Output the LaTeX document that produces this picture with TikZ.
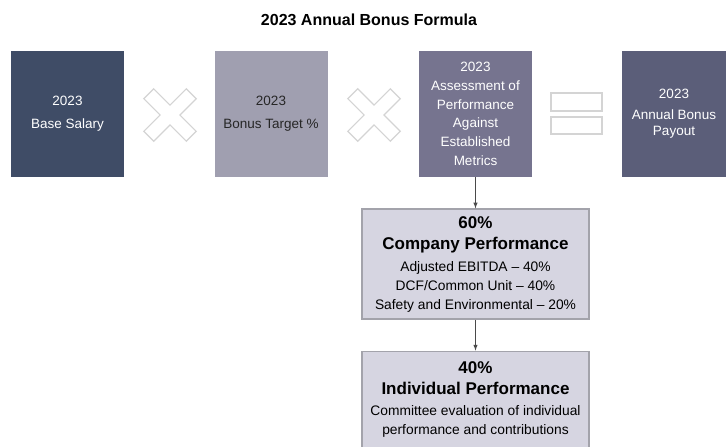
\documentclass[tikz,border=0pt]{standalone}
\usepackage{fontspec}
\setmainfont{Liberation Sans}
\usetikzlibrary{positioning}

\definecolor{navy}{HTML}{3F4C66}
\definecolor{lilac}{HTML}{A09FB0}
\definecolor{slate}{HTML}{76748F}
\definecolor{dusk}{HTML}{5B5E79}
\definecolor{panel}{HTML}{D6D5E1}
\definecolor{panelline}{HTML}{A3A3AB}
\definecolor{signline}{HTML}{D4D4D4}
\definecolor{arrowgrey}{HTML}{4A4A4A}

\tikzset{
	bonusbox/.style={minimum width=113pt, minimum height=126pt, inner sep=0pt, align=center, font=\fontsize{13.5}{16}\selectfont},
	partbox/.style={draw=panelline, line width=1.2pt, fill=panel, minimum width=227pt, inner sep=0pt, align=center, font=\fontsize{13.8}{19}\selectfont},
}

\begin{document}
\begin{tikzpicture}[x=1pt,y=-1pt]
\useasboundingbox (0,0) rectangle (726,447);

\node[font=\bfseries\fontsize{16}{19}\selectfont] (title) at (369,20) {2023 Annual Bonus Formula};

\node[bonusbox, fill=navy, text=white] (salary) at (67.5,114) {2023\\[7pt]Base Salary};
\node[bonusbox, fill=lilac, text=black!85] (target) at (271,114) {2023\\[7pt]Bonus Target \%};
\node[bonusbox, fill=slate, text=white, font=\fontsize{13.5}{18.7}\selectfont] (assess) at (475.5,114) {2023\\Assessment of\\Performance\\Against\\Established\\Metrics};
\node[bonusbox, fill=dusk, text=white, minimum width=104pt] (payout) at (674,114) {2023\\[5pt]Annual Bonus\\Payout};

\foreach \cx in {170,374} {
	\draw[signline, line width=1.2pt, fill=white, shift={(\cx,115)}, rotate=45]
		(-7,-30) -- (7,-30) -- (7,-7) -- (30,-7) -- (30,7) -- (7,7) -- (7,30)
		-- (-7,30) -- (-7,7) -- (-30,7) -- (-30,-7) -- (-7,-7) -- cycle;
}
\draw[signline, line width=1.2pt] (551,93) rectangle (602,111);
\draw[signline, line width=1.2pt] (551,117) rectangle (602,134);

\node[partbox, minimum height=110pt] (company) at (475.5,264) {{\bfseries\fontsize{17}{19}\selectfont 60\%}\\[2pt]{\bfseries\fontsize{17}{19}\selectfont Company Performance}\\[3pt]Adjusted EBITDA -- 40\%\\DCF/Common Unit -- 40\%\\Safety and Environmental -- 20\%};
\node[partbox, minimum height=96pt, below=31pt of company] (individual) {{\bfseries\fontsize{17}{19}\selectfont 40\%}\\[2pt]{\bfseries\fontsize{17}{19}\selectfont Individual Performance}\\[2pt]Committee evaluation of individual\\performance and contributions};

\draw[arrowgrey, line width=1pt][-latex] (assess) -- (company);
\draw[arrowgrey, line width=1pt][-latex] (company) -- (individual);
\end{tikzpicture}
\end{document}
